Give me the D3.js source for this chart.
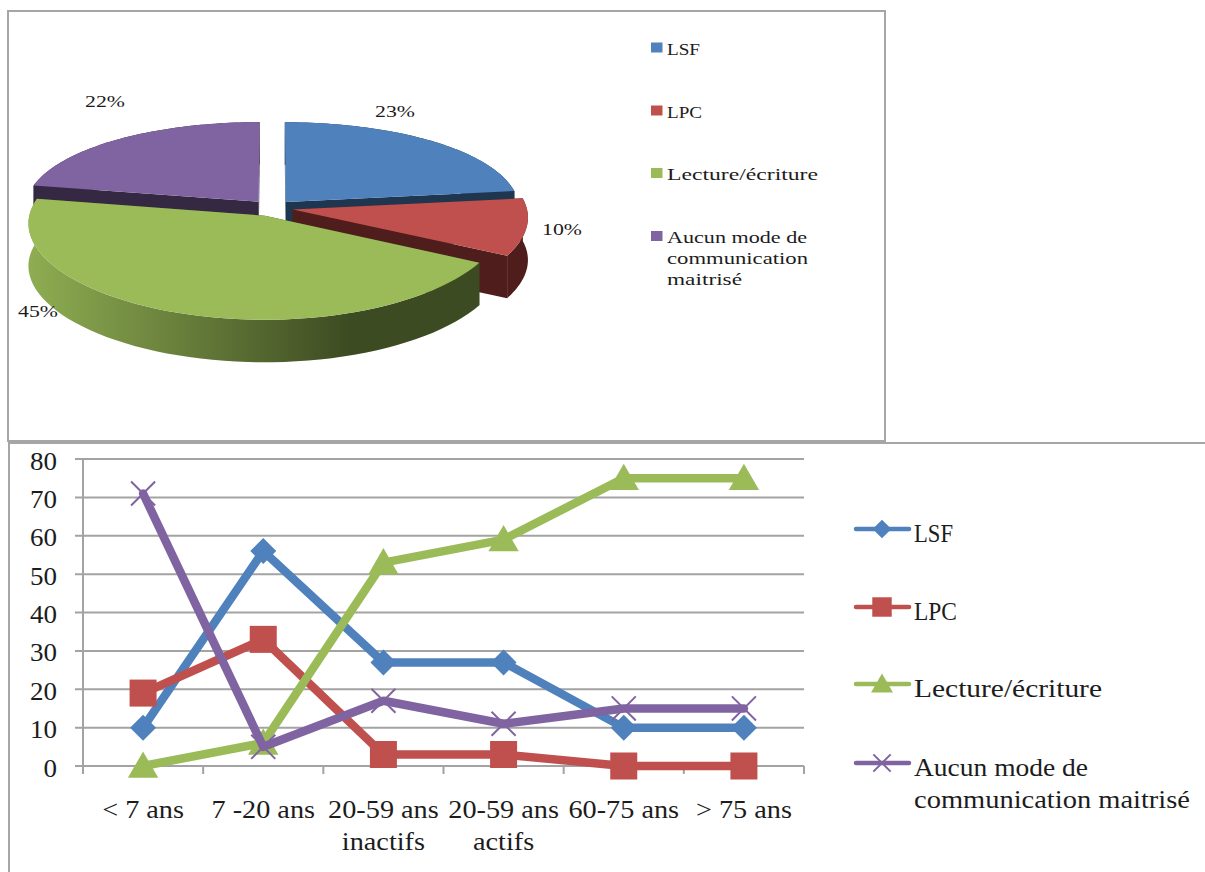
<!DOCTYPE html>
<html><head><meta charset="utf-8">
<script src="https://cdnjs.cloudflare.com/ajax/libs/d3/7.8.5/d3.min.js"></script>
<style>html,body{margin:0;padding:0;background:#fff}svg{display:block}</style></head>
<body><svg id="c" width="1205" height="872"></svg>
<script>
// ---- data ----
const pieNames = ["LSF","LPC","Lecture/écriture","Aucun mode de communication maitrisé"];
const pieValues = [23,10,45,22];
const categories = ["< 7 ans","7 -20 ans","20-59 ans inactifs","20-59 ans actifs","60-75 ans","> 75 ans"];
const seriesLSF = [10,56,27,27,10,10];
const seriesLPC = [19,33,3,3,0,0];
const seriesLecture = [0,6,53,59,75,75];
const seriesAucun = [71,5,17,11,15,15];
const yTicks = [0,10,20,30,40,50,60,70,80];
const colors = ["#4f81bd","#c0504d","#9bbb59","#8064a2"];
const wallColors = ["#1f3650","#4f1e1c","url(#gw)","#352843"];

const FONT = '"Liberation Serif", serif', INK = "#1c1c1c", GRID = "#a3a3a3";
const svg = d3.select("#c");

function put(parent, x, y, str, size, fit, anchor){
  // fit > 10 means a target width in px, otherwise a stretch factor
  const t = parent.append("text").attr("x",x).attr("y",y).attr("font-family",FONT)
    .attr("font-size",size).attr("fill",INK).attr("text-anchor",anchor||"start").text(str);
  const w = t.node().getComputedTextLength();
  t.attr("textLength", fit>10 ? fit : w*fit).attr("lengthAdjust","spacingAndGlyphs");
  return t;
}

// ---- frames ----
const frames = svg.append("g").attr("stroke","#a6a6a6").attr("stroke-width",2).attr("fill","none");
frames.append("rect").attr("x",8).attr("y",11).attr("width",877).attr("height",430);
frames.append("path").attr("d","M1205,443H9V872");

// ---- 3D pie ----
const defs = svg.append("defs");
const gw = defs.append("linearGradient").attr("id","gw").attr("gradientUnits","userSpaceOnUse")
  .attr("x1",26).attr("x2",350).attr("y1",0).attr("y2",0);
gw.append("stop").attr("offset",0).attr("stop-color","#8fae52");
gw.append("stop").attr("offset",1).attr("stop-color","#3d4b22");

const cx=272, cy=208, rx=234, ry=90.2, perspX=0.08, perspY=0.115, depth=42.5, explode=0.09;
const project = (u,v,dz=0)=>[cx+rx*u/(1+perspX*v), cy-ry*v/(1+perspY*v)+dz];
const arcs = d3.pie().sort(null)(pieValues);
const lineGen = d3.line();
function rimPoints(d){
  const n=60, mid=(d.startAngle+d.endAngle)/2, ox=explode*Math.sin(mid), oy=explode*Math.cos(mid);
  const pts = d3.range(n+1).map(i=>{
    const a=d.startAngle+(d.endAngle-d.startAngle)*i/n;
    return [ox+Math.sin(a), oy+Math.cos(a)];
  });
  return {pts, apex:[ox,oy]};
}
const pieG = svg.append("g");
[3,0,1,2].forEach(i=>{
  const {pts,apex} = rimPoints(arcs[i]);
  const P = (p,dz)=>project(p[0],p[1],dz);
  const first=pts[0], last=pts[pts.length-1];
  [first,last].forEach(e=>{
    pieG.append("path").attr("d",lineGen([P(apex,0),P(e,0),P(e,depth),P(apex,depth)])+"Z")
      .attr("fill", i===2 ? "#3d4b22" : wallColors[i]);
  });
  const wall = pts.map(p=>P(p,0)).concat(pts.slice().reverse().map(p=>P(p,depth)));
  pieG.append("path").attr("d",lineGen(wall)+"Z").attr("fill",wallColors[i]);
  const top = [P(apex,0)].concat(pts.map(p=>P(p,0)));
  pieG.append("path").attr("d",lineGen(top)+"Z").attr("fill",colors[i]);
});
const pf = 1.28, ps = 17;
const pieLabelPos = [[395,117],[562,235],[38,317],[105,107]];
pieValues.forEach((v,i)=>put(svg,pieLabelPos[i][0],pieLabelPos[i][1],v+"%",ps,pf,"middle"));

// pie legend
const legend1Lines = [["LSF"],["LPC"],["Lecture/écriture"],["Aucun mode de","communication","maitrisé"]];
const legend1Fit = [[33],[35],[151],[140,141,75]];
const l1y = [47.5,110.5,173,236];
legend1Lines.forEach((lines,i)=>{
  svg.append("rect").attr("x",651).attr("y",l1y[i]-5).attr("width",11.5).attr("height",10).attr("fill",colors[i]);
  lines.forEach((t,j)=>put(svg,667,l1y[i]+7+j*21,t,ps,legend1Fit[i][j]));
});

// ---- line chart ----
const x = d3.scaleBand().domain(categories).range([83,804]);
const y = d3.scaleLinear().domain([0,80]).range([766,459]);
const lc = svg.append("g");
lc.append("g").selectAll("line").data(yTicks).join("line")
  .attr("x1",75).attr("x2",804).attr("y1",d=>y(d)).attr("y2",d=>y(d))
  .attr("stroke",GRID).attr("stroke-width",2);
const edges = categories.map(c=>x(c)).concat([x.range()[1]]);
lc.append("g").selectAll("line").data(edges).join("line")
  .attr("x1",d=>d).attr("x2",d=>d).attr("y1",766).attr("y2",774)
  .attr("stroke",GRID).attr("stroke-width",2);
lc.append("line").attr("x1",83).attr("x2",83).attr("y1",459).attr("y2",774).attr("stroke",GRID).attr("stroke-width",2);
const tf = 1.08, cf = 1.13, ts = 25;
yTicks.forEach(t=>put(svg,57,y(t)+10.5,String(t),ts,tf,"end"));
const catLines = [["< 7 ans"],["7 -20 ans"],["20-59 ans","inactifs"],["20-59 ans","actifs"],["60-75 ans"],["> 75 ans"]];
catLines.forEach((ls,i)=>ls.forEach((t,j)=>
  put(svg,x(categories[i])+x.bandwidth()/2,818+j*32,t,ts,cf,"middle")));

const marks = [
  {t:d3.symbolSquare, size:338, rot:45, dy:0, fill:true},
  {t:d3.symbolSquare, size:730, rot:0, dy:0, fill:true},
  {t:d3.symbolTriangle, size:400, rot:0, dy:3, fill:true},
  {t:d3.symbolX, size:380, rot:0, dy:0, fill:false}
];
function marker(g,m,i,px,py,scale){
  const p = g.append("path").attr("d",d3.symbol().type(m.t).size(m.size*scale*scale)())
    .attr("transform",`translate(${px},${py+m.dy*scale}) rotate(${m.rot})`);
  if(m.fill) p.attr("fill",colors[i]);
  else p.attr("fill","none").attr("stroke",colors[i]).attr("stroke-width",2);
}
const all = [seriesLSF,seriesLPC,seriesLecture,seriesAucun];
const line = d3.line().x((d,i)=>x(categories[i])+x.bandwidth()/2).y(d=>y(d));
all.forEach((vals,i)=>{
  const g = lc.append("g");
  g.append("path").attr("d",line(vals)).attr("fill","none").attr("stroke",colors[i])
    .attr("stroke-width",8.5).attr("stroke-linejoin","round").attr("stroke-linecap","round");
  vals.forEach((v,k)=>marker(g,marks[i],i,x(categories[k])+x.bandwidth()/2,y(v),1));
});

// line legend
const legend2Lines = [["LSF"],["LPC"],["Lecture/écriture"],["Aucun mode de","communication maitrisé"]];
const legend2Fit = [[39],[43],[188],[174,276]];
const l2y = [529,607,684,763];
legend2Lines.forEach((ls,i)=>{
  svg.append("line").attr("x1",856).attr("x2",909).attr("y1",l2y[i]).attr("y2",l2y[i])
    .attr("stroke",colors[i]).attr("stroke-width",4.5).attr("stroke-linecap","round");
  marker(svg,marks[i],i,882,l2y[i],0.72);
  ls.forEach((t,j)=>put(svg,914,l2y[i]+12.5+j*32,t,ts,legend2Fit[i][j]));
});
</script></body></html>
